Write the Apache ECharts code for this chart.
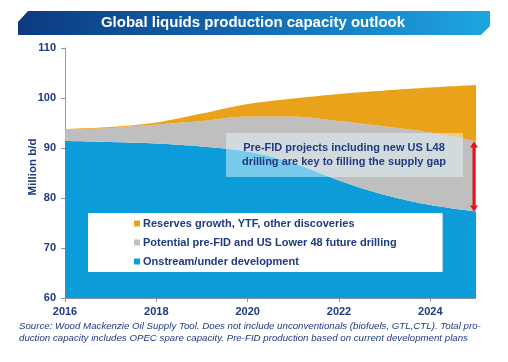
<!DOCTYPE html>
<html>
<head>
<meta charset="utf-8">
<script src="https://cdn.jsdelivr.net/npm/echarts@6/dist/echarts.min.js"></script>
<style>
html,body{margin:0;padding:0;background:#fff;}
#chart{width:508px;height:362px;}
</style>
</head>
<body>
<div id="chart"></div>
<script>
var years = ['2016','2017','2018','2019','2020','2021','2022','2023','2024','2025'];
var onstream = [91.4, 91.2, 90.9, 90.3, 89.3, 87.0, 83.5, 80.6, 78.6, 77.3];
var preFID = [2.3, 2.8, 3.8, 5.1, 7.0, 9.3, 11.9, 13.7, 14.5, 14.0];
var reserves = [0.1, 0.2, 0.4, 1.5, 2.5, 3.6, 5.4, 7.2, 9.0, 11.3];
var yTicks = [60, 70, 80, 90, 100, 110];
var seriesNames = ['Onstream/under development', 'Potential pre-FID and US Lower 48 future drilling', 'Reserves growth, YTF, other discoveries'];
var titleText = 'Global liquids production capacity outlook';
var yName = 'Million b/d';
var calloutLines = ['Pre-FID projects including new US L48', 'drilling are key to filling the supply gap'];
var footLines = ['Source: Wood Mackenzie Oil Supply Tool. Does not include unconventionals (biofuels, GTL,CTL). Total pro-',
                 'duction capacity includes OPEC spare capacity. Pre-FID production based on current development plans'];

var navy = '#1f3a80';
var colors = ['#0d9cda', '#bfbfbf', '#eaa21b'];
var font = 'Liberation Sans, Arial, sans-serif';

var chart = echarts.init(document.getElementById('chart'));

function areaSeries(name, data, color) {
  return {
    name: name, type: 'line', stack: 'total', data: data,
    smooth: 0.3, symbol: 'none',
    lineStyle: {width: 0},
    areaStyle: {color: color, opacity: 1},
    itemStyle: {color: color},
    z: 2
  };
}

var option = {
  animation: false,
  textStyle: {fontFamily: font},
  grid: {left: 65, right: 32, top: 48, bottom: 64, containLabel: false},
  xAxis: {
    type: 'category', data: years, boundaryGap: false,
    axisLine: {lineStyle: {color: '#8a96b4', width: 1}},
    axisTick: {interval: 1, length: 4, lineStyle: {color: '#8a96b4'}},
    axisLabel: {interval: 1, color: navy, fontWeight: 'bold', fontSize: 11, margin: 8, fontFamily: font},
    splitLine: {show: false}
  },
  yAxis: {
    type: 'value', min: yTicks[0], max: yTicks[yTicks.length-1], interval: 10,
    axisLine: {show: true, lineStyle: {color: '#8a96b4', width: 1}},
    axisTick: {show: true, length: 4, lineStyle: {color: '#8a96b4'}},
    axisLabel: {color: navy, fontWeight: 'bold', fontSize: 11, margin: 9, fontFamily: font},
    splitLine: {show: false}
  },
  legend: {
    orient: 'vertical', left: 88, top: 213,
    data: [seriesNames[2], seriesNames[1], seriesNames[0]],
    backgroundColor: '#ffffff',
    padding: [5, 46, 5, 46],
    itemWidth: 6, itemHeight: 6, itemGap: 8,
    icon: 'rect',
    textStyle: {color: navy, fontWeight: 'bold', fontSize: 11, fontFamily: font, padding: [0, 0, 0, -2]},
    z: 6
  },
  series: [
    areaSeries(seriesNames[0], onstream, colors[0]),
    areaSeries(seriesNames[1], preFID, colors[1]),
    areaSeries(seriesNames[2], reserves, colors[2])
  ],
  graphic: [
    {
      type: 'polygon', z: 1,
      shape: {points: [[18,22],[28,11],[490,11],[490,26],[481,35],[18,35]]},
      style: {fill: new echarts.graphic.LinearGradient(0,0,1,0,[{offset:0,color:'#0c3a80'},{offset:0.45,color:'#1265ad'},{offset:1,color:'#1ea6e0'}])}
    },
    {
      type: 'text', z: 2, x: 253, y: 23,
      style: {text: titleText, fill: '#ffffff', font: 'bold 15px ' + font, textAlign: 'center', textVerticalAlign: 'middle'}
    },
    {
      type: 'text', z: 2, x: 33, y: 167, rotation: Math.PI/2,
      style: {text: yName, fill: navy, font: 'bold 11.5px ' + font, textAlign: 'center', textVerticalAlign: 'middle'}
    },
    {
      type: 'rect', z: 5,
      shape: {x: 226, y: 133, width: 237, height: 44},
      style: {fill: 'rgba(228,247,253,0.5)'}
    },
    {
      type: 'text', z: 6, x: 344, y: 148,
      style: {text: calloutLines[0], fill: navy, font: 'bold 11px ' + font, textAlign: 'center', textVerticalAlign: 'middle'}
    },
    {
      type: 'text', z: 6, x: 344, y: 162,
      style: {text: calloutLines[1], fill: navy, font: 'bold 11px ' + font, textAlign: 'center', textVerticalAlign: 'middle'}
    },
    {
      type: 'text', z: 2, x: 19, y: 326,
      style: {text: footLines[0], fill: navy, font: 'italic 9.7px ' + font, textAlign: 'left', textVerticalAlign: 'middle'}
    },
    {
      type: 'text', z: 2, x: 19, y: 338,
      style: {text: footLines[1], fill: navy, font: 'italic 9.7px ' + font, textAlign: 'left', textVerticalAlign: 'middle'}
    }
  ]
};
chart.setOption(option);

// red gap arrow at last year, from top of pre-FID stack down to onstream
var last = years.length - 1;
var topVal = onstream[last] + preFID[last];
var p1 = chart.convertToPixel({gridIndex: 0}, [last, topVal]);
var p2 = chart.convertToPixel({gridIndex: 0}, [last, onstream[last]]);
var ax = p1[0] - 2;
var red = '#e8101c';
chart.setOption({
  graphic: option.graphic.concat([
    {type: 'line', z: 7, shape: {x1: ax, y1: p1[1] + 4, x2: ax, y2: p2[1] - 4}, style: {stroke: red, lineWidth: 3}},
    {type: 'polygon', z: 7, shape: {points: [[ax, p1[1]], [ax-4, p1[1]+6], [ax+4, p1[1]+6]]}, style: {fill: red}},
    {type: 'polygon', z: 7, shape: {points: [[ax, p2[1]], [ax-4, p2[1]-6], [ax+4, p2[1]-6]]}, style: {fill: red}}
  ])
});
</script>
</body>
</html>
